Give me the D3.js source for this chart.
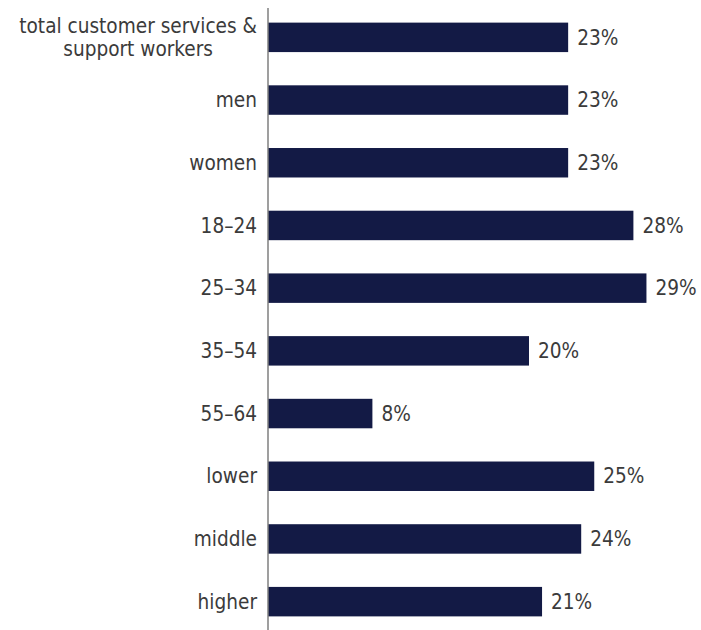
<!DOCTYPE html>
<html>
<head>
<meta charset="utf-8">
<script src="https://cdn.jsdelivr.net/npm/d3@7"></script>
<style>
  html, body { margin: 0; padding: 0; background: #fff; }
  svg text { font-family: "DejaVu Sans Condensed", "DejaVu Sans", sans-serif; font-stretch: condensed; }
</style>
</head>
<body>
<svg id="chart" width="701" height="630"></svg>
<script>
const categories = [
  ["total customer services &", "support workers"],
  ["men"], ["women"], ["18–24"], ["25–34"], ["35–54"], ["55–64"],
  ["lower"], ["middle"], ["higher"]
];
const values = [23, 23, 23, 28, 29, 20, 8, 25, 24, 21];

const svg = d3.select("#chart");
const x0 = 268;
const labelRight = 257;
const fontSize = 20.6;
const x = d3.scaleLinear().domain([0, 10]).range([x0, x0 + 130.5]);
const y = d3.scaleBand()
  .domain(d3.range(categories.length))
  .range([6, 633])
  .paddingInner(0.53)
  .paddingOuter(0.265);

const textColor = "#3b3b3b";

svg.append("g").selectAll("rect")
  .data(values)
  .join("rect")
  .attr("x", x(0))
  .attr("y", (d, i) => y(i))
  .attr("width", d => x(d) - x(0))
  .attr("height", y.bandwidth())
  .attr("fill", "#131a45");

svg.append("g").selectAll("text")
  .data(values)
  .join("text")
  .attr("x", d => x(d) + 9)
  .attr("y", (d, i) => y(i) + y.bandwidth() / 2)
  .attr("dy", "0.35em")
  .attr("font-size", fontSize)
  .attr("fill", textColor)
  .text(d => d + "%");

// Category labels: a multi-line label is a centred block whose right edge sits at labelRight
const labels = svg.append("g").selectAll("text")
  .data(categories)
  .join("text")
  .attr("text-anchor", "middle")
  .attr("font-size", fontSize)
  .attr("fill", textColor)
  .attr("y", (d, i) => y(i) + y.bandwidth() / 2);

labels.each(function (lines) {
  const t = d3.select(this);
  const spans = t.selectAll("tspan")
    .data(lines.map((line, j) => ({ line, j, n: lines.length })))
    .join("tspan")
    .attr("dy", p => p.j === 0 ? (0.35 - (p.n - 1) * 0.571) + "em" : "1.143em")
    .text(p => p.line);
  const maxW = d3.max(spans.nodes(), n => n.getComputedTextLength());
  spans.attr("x", labelRight - maxW / 2);
});

svg.append("line")
  .attr("x1", x0).attr("x2", x0)
  .attr("y1", 8).attr("y2", 630)
  .attr("stroke", "#7f7f7f")
  .attr("stroke-width", 1.5);
</script>
</body>
</html>
